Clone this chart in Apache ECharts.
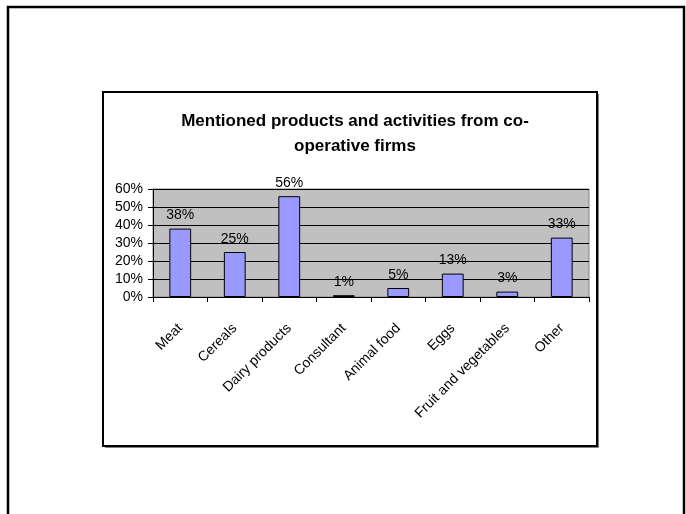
<!DOCTYPE html>
<html>
<head>
<meta charset="utf-8">
<script src="https://cdn.jsdelivr.net/npm/echarts@6/dist/echarts.min.js"></script>
<style>
html,body{margin:0;padding:0;background:#fff;}
#c{width:686px;height:514px;}
</style>
</head>
<body>
<div id="c"></div>
<script>
const titleLines = ["Mentioned products and activities from co-", "operative firms"];
const categories = ["Meat", "Cereals", "Dairy products", "Consultant", "Animal food", "Eggs", "Fruit and vegetables", "Other"];
const values = [38, 25, 56, 1, 5, 13, 3, 33];
const yMin = 0, yMax = 60, yStep = 10;

const chart = echarts.init(document.getElementById('c'), null, {renderer: 'canvas'});
const font = 'Liberation Sans, Arial, sans-serif';
chart.setOption({
  backgroundColor: '#fff',
  animation: false,
  title: {
    text: titleLines.join('\n'),
    left: 350, top: 104, textAlign: 'center',
    textStyle: {fontFamily: font, fontSize: 17, fontWeight: 'bold', color: '#000', lineHeight: 25}
  },
  graphic: [
    {type: 'polyline', shape: {points: [[8, 520], [8, 7], [684, 7], [684, 520]]}, style: {stroke: '#000', lineWidth: 2.5, fill: null}},
    {type: 'rect', shape: {x: 105, y: 446, width: 494, height: 2}, style: {fill: '#808080'}},
    {type: 'rect', shape: {x: 597, y: 94, width: 2, height: 354}, style: {fill: '#808080'}},
    {type: 'rect', shape: {x: 103, y: 92, width: 494, height: 354}, style: {stroke: '#000', lineWidth: 2, fill: null}}
  ],
  grid: {
    left: 153, right: 97, top: 189, bottom: 217,
    show: true, backgroundColor: '#C0C0C0', borderColor: '#808080', borderWidth: 1
  },
  xAxis: {
    type: 'category', data: categories,
    axisLine: {lineStyle: {color: '#000', width: 1}},
    axisTick: {show: true, length: 5, lineStyle: {color: '#000'}},
    axisLabel: {rotate: 45, margin: 29, fontFamily: font, fontSize: 14, color: '#000', interval: 0}
  },
  yAxis: {
    type: 'value', min: yMin, max: yMax, interval: yStep,
    axisLine: {show: true, lineStyle: {color: '#000', width: 1}},
    axisTick: {show: true, length: 5, lineStyle: {color: '#000'}},
    splitLine: {show: true, lineStyle: {color: '#000', width: 1}},
    axisLabel: {formatter: '{value}%', margin: 10, fontFamily: font, fontSize: 14, color: '#000'}
  },
  series: [{
    type: 'bar', data: values, barWidth: '40%',
    itemStyle: {color: '#9999FF', borderColor: '#000', borderWidth: 1},
    label: {show: true, position: 'top', distance: 6, formatter: '{c}%', fontFamily: font, fontSize: 14, color: '#000'}
  }]
});
</script>
</body>
</html>
